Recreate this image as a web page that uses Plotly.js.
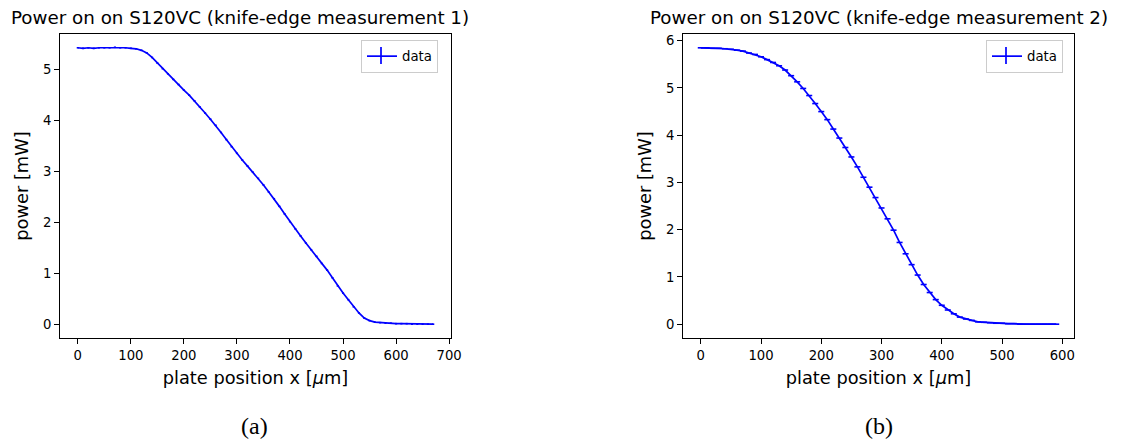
<!DOCTYPE html>
<html><head><meta charset="utf-8">
<script src="https://cdn.plot.ly/plotly-3.0.1.min.js"></script>
<style>html,body{margin:0;padding:0;background:#fff}#plot{width:1131px;height:442px}</style>
</head><body><div id="plot"></div>
<script>
// Measurement 1 (left): plate position [um] and power [mW]
const x1 = [0,10,20,30,40,50,60,70,80,90,100,110,120,130,140,150,160,170,180,190,200,210,220,230,240,250,260,270,280,290,300,310,320,330,340,350,360,370,380,390,400,410,420,430,440,450,460,470,480,490,500,510,520,530,540,550,560,570,580,590,600,610,620,630,640,650,660,670];
const y1 = [5.42,5.41,5.42,5.41,5.42,5.42,5.42,5.43,5.42,5.42,5.41,5.40,5.37,5.32,5.23,5.12,5.01,4.91,4.80,4.70,4.59,4.49,4.38,4.26,4.14,4.02,3.90,3.76,3.62,3.48,3.35,3.22,3.10,2.98,2.86,2.73,2.59,2.46,2.31,2.16,2.01,1.87,1.73,1.59,1.46,1.33,1.19,1.06,0.91,0.75,0.61,0.48,0.34,0.22,0.12,0.07,0.04,0.03,0.02,0.02,0.01,0.01,0.01,0.00,0.00,0.00,0.00,0.00];
const xerr1 = 2;
// Measurement 2 (right)
const x2 = [0,10,20,30,40,50,60,70,80,90,100,110,120,130,140,150,160,170,180,190,200,210,220,230,240,250,260,270,280,290,300,310,320,330,340,350,360,370,380,390,400,410,420,430,440,450,460,470,480,490,500,510,520,530,540,550,560,570,580,590];
const y2 = [5.85,5.85,5.84,5.84,5.83,5.82,5.80,5.78,5.74,5.71,5.66,5.60,5.54,5.47,5.38,5.26,5.13,4.99,4.84,4.67,4.50,4.33,4.13,3.94,3.74,3.54,3.33,3.11,2.90,2.68,2.46,2.23,1.99,1.73,1.49,1.26,1.04,0.84,0.67,0.52,0.40,0.30,0.22,0.15,0.11,0.08,0.05,0.04,0.03,0.02,0.02,0.01,0.01,0.00,0.00,0.00,0.00,0.00,0.00,0.00];
const xerr2 = 5;

const titles = ["Power on on S120VC (knife-edge measurement 1)", "Power on on S120VC (knife-edge measurement 2)"];
const xLabel = "plate position x [<i>μ</i>m]";
const yLabel = "power [mW]";
const captions = ["(a)", "(b)"];
const legendName = "data";
const xTicks1 = [0,100,200,300,400,500,600,700];
const xTicks2 = [0,100,200,300,400,500,600];
const yTicks1 = [0,1,2,3,4,5];
const yTicks2 = [0,1,2,3,4,5,6];

const W = 1131, H = 442;
const FONT = "DejaVu Sans, sans-serif";
const blue = "#0000ff";

function trace(x, y, e, xa, ya, leg) {
  return {
    x: x, y: y, type: "scatter", mode: "lines", name: legendName,
    xaxis: xa, yaxis: ya, legend: leg,
    line: {color: blue, width: 1.7},
    error_x: {type: "constant", value: e, color: blue, thickness: 1.6, width: 0, visible: true}
  };
}

function axisCommon(extra) {
  return Object.assign({
    showline: true, mirror: true, linecolor: "#000", linewidth: 1,
    ticks: "outside", ticklen: 5, tickwidth: 1, tickcolor: "#000",
    showgrid: false, zeroline: false,
    tickfont: {family: FONT, size: 13.2, color: "#000"},
    fixedrange: true
  }, extra);
}

const px = v => v / W, py = v => 1 - v / H;
const labFont = {family: FONT, size: 17.8, color: "#000"};
const legFont = {family: FONT, size: 13.3, color: "#000"};

const layout = {
  width: W, height: H,
  margin: {l: 0, r: 0, t: 0, b: 0},
  paper_bgcolor: "#fff", plot_bgcolor: "#fff",
  showlegend: true,
  xaxis: axisCommon({domain: [px(60), px(451)], range: [-33.5, 703.5], tickvals: xTicks1, anchor: "y",
    title: {text: xLabel, font: labFont, standoff: 9}}),
  yaxis: axisCommon({domain: [py(338), py(34)], range: [-0.271, 5.69], tickvals: yTicks1, anchor: "x",
    title: {text: yLabel, font: labFont, standoff: 9}}),
  xaxis2: axisCommon({domain: [px(683), px(1074)], range: [-29.5, 619.5], tickvals: xTicks2, anchor: "y2",
    title: {text: xLabel, font: labFont, standoff: 9}}),
  yaxis2: axisCommon({domain: [py(338), py(34)], range: [-0.2925, 6.1425], tickvals: yTicks2, anchor: "x2",
    title: {text: yLabel, font: labFont, standoff: 9}}),
  legend: {x: px(361), y: py(40), xanchor: "left", yanchor: "top", bgcolor: "rgba(255,255,255,0)",
    bordercolor: "#cccccc", borderwidth: 1, font: legFont, itemwidth: 30},
  legend2: {x: px(986), y: py(40), xanchor: "left", yanchor: "top", bgcolor: "rgba(255,255,255,0)",
    bordercolor: "#cccccc", borderwidth: 1, font: legFont, itemwidth: 30},
  shapes: [
    {type: "line", xref: "paper", yref: "paper", x0: px(381), x1: px(381), y0: py(47), y1: py(64), line: {color: blue, width: 1.7}},
    {type: "line", xref: "paper", yref: "paper", x0: px(1006), x1: px(1006), y0: py(47), y1: py(64), line: {color: blue, width: 1.7}}
  ],
  annotations: [
    {text: titles[0], xref: "paper", yref: "paper", x: px(9), y: py(30), xanchor: "left", yanchor: "bottom",
     showarrow: false, font: {family: FONT, size: 18.3, color: "#000"}},
    {text: titles[1], xref: "paper", yref: "paper", x: px(878.5), y: py(30), xanchor: "center", yanchor: "bottom",
     showarrow: false, font: {family: FONT, size: 18.3, color: "#000"}},
    {text: captions[0], xref: "paper", yref: "paper", x: px(254), y: py(426), xanchor: "center", yanchor: "middle",
     showarrow: false, font: {family: "Liberation Serif, DejaVu Serif, serif", size: 24, color: "#000"}},
    {text: captions[1], xref: "paper", yref: "paper", x: px(879), y: py(426), xanchor: "center", yanchor: "middle",
     showarrow: false, font: {family: "Liberation Serif, DejaVu Serif, serif", size: 24, color: "#000"}}
  ]
};

Plotly.newPlot("plot", [trace(x1, y1, xerr1, "x", "y", "legend"), trace(x2, y2, xerr2, "x2", "y2", "legend2")], layout,
  {staticPlot: true, displayModeBar: false});
</script></body></html>
